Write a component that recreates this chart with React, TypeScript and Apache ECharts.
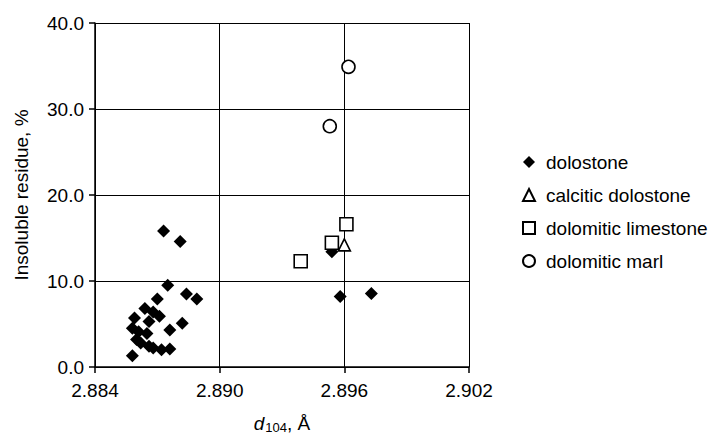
import React, { useEffect, useRef } from "react";
import * as echarts from "echarts";

const dolostoneX = [2.8873, 2.8881, 2.8875, 2.8884, 2.8889, 2.8870, 2.8864, 2.8868, 2.8871, 2.8859, 2.8866, 2.8882, 2.8876, 2.8858, 2.8861, 2.8865, 2.8860, 2.8862, 2.8866, 2.8868, 2.8872, 2.8876, 2.8858, 2.8954, 2.8958, 2.8973];
const dolostoneY = [15.8, 14.6, 9.5, 8.5, 7.9, 7.9, 6.8, 6.4, 5.9, 5.7, 5.3, 5.1, 4.3, 4.5, 4.1, 3.9, 3.2, 2.8, 2.4, 2.2, 2.0, 2.1, 1.3, 13.4, 8.2, 8.55];
const calciticX = [2.8960];
const calciticY = [14.2];
const limestoneX = [2.8961, 2.8954, 2.8939];
const limestoneY = [16.6, 14.45, 12.3];
const marlX = [2.8962, 2.8953];
const marlY = [34.9, 28.0];

const seriesNames = ["dolostone", "calcitic dolostone", "dolomitic limestone", "dolomitic marl"];
const xTicks = [2.884, 2.89, 2.896, 2.902];
const yTicks = [0, 10, 20, 30, 40];

const zip = (xs: number[], ys: number[]) => xs.map((x, i) => [x, ys[i]]);

export default function App() {
  const ref = useRef<HTMLDivElement>(null);
  useEffect(() => {
    if (!ref.current) return;
    const chart = echarts.init(ref.current, null, { renderer: "svg" });
    const font = "Liberation Sans, Arial, sans-serif";
    const hollow = { color: "#fff", borderColor: "#000", borderWidth: 1.6, opacity: 1 };
    chart.setOption({
      animation: false,
      backgroundColor: "#fff",
      textStyle: { fontFamily: font, color: "#000" },
      grid: { left: 95, right: 250, top: 23, bottom: 70 },
      xAxis: {
        type: "value",
        min: xTicks[0],
        max: xTicks[xTicks.length - 1],
        interval: 0.006,
        name: "{i|d}{s|104}{n|, Å}",
        nameLocation: "middle",
        nameGap: 46,
        nameTextStyle: {
          rich: {
            i: { fontStyle: "italic", fontSize: 19, fontFamily: font, color: "#000" },
            s: { fontSize: 13, fontFamily: font, color: "#000", padding: [8, 0, 0, 1] },
            n: { fontSize: 19, fontFamily: font, color: "#000" },
          },
        },
        axisLine: { lineStyle: { color: "#000", width: 1.5 } },
        axisTick: { length: 6, lineStyle: { color: "#000", width: 1.5 } },
        axisLabel: { fontSize: 19, color: "#000", margin: 14, formatter: (v: number) => v.toFixed(3) },
        splitLine: { lineStyle: { color: "#000", width: 1 } },
      },
      yAxis: {
        type: "value",
        min: yTicks[0],
        max: yTicks[yTicks.length - 1],
        interval: 10,
        name: "Insoluble residue, %",
        nameLocation: "middle",
        nameGap: 64,
        nameTextStyle: { fontSize: 19, color: "#000", fontFamily: font },
        axisLine: { show: true, lineStyle: { color: "#000", width: 1.5 } },
        axisTick: { show: true, length: 6, lineStyle: { color: "#000", width: 1.5 } },
        axisLabel: { fontSize: 19, color: "#000", margin: 11, formatter: (v: number) => v.toFixed(1) },
        splitLine: { lineStyle: { color: "#000", width: 1 } },
      },
      legend: {
        orient: "vertical",
        left: 517,
        top: 146,
        itemGap: 11,
        itemWidth: 12,
        itemHeight: 12,
        textStyle: { fontSize: 19, lineHeight: 22, color: "#000", fontFamily: font, padding: [0, 0, 0, 6] },
        data: seriesNames,
      },
      series: [
        {
          name: seriesNames[0],
          type: "scatter",
          symbol: "diamond",
          symbolSize: 13,
          itemStyle: { color: "#000", opacity: 1 },
          data: zip(dolostoneX, dolostoneY),
        },
        {
          name: seriesNames[1],
          type: "scatter",
          symbol: "triangle",
          symbolSize: 12,
          itemStyle: hollow,
          data: zip(calciticX, calciticY),
        },
        {
          name: seriesNames[2],
          type: "scatter",
          symbol: "rect",
          symbolSize: 13,
          itemStyle: hollow,
          data: zip(limestoneX, limestoneY),
        },
        {
          name: seriesNames[3],
          type: "scatter",
          symbol: "circle",
          symbolSize: 13,
          itemStyle: hollow,
          data: zip(marlX, marlY),
        },
      ],
    });
    return () => chart.dispose();
  }, []);
  return <div ref={ref} style={{ width: 719, height: 439, position: "absolute", left: 0, top: 0 }} />;
}
